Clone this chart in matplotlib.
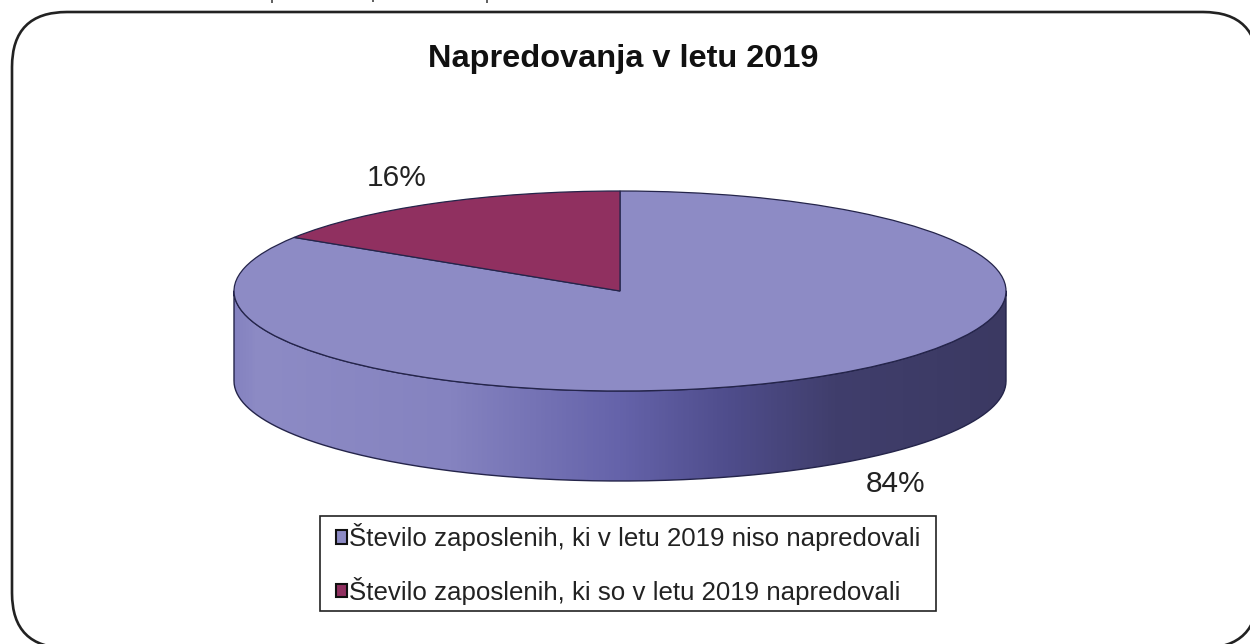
import numpy as np
import matplotlib
matplotlib.use('Agg')
import matplotlib.pyplot as plt
from matplotlib.colors import LinearSegmentedColormap
from matplotlib.patches import FancyBboxPatch, Patch, PathPatch, Rectangle
from matplotlib.path import Path

# DATA
title = 'Napredovanja v letu 2019'
labels = ['Število zaposlenih, ki v letu 2019 niso napredovali',
          'Število zaposlenih, ki so v letu 2019 napredovali']
values = [84, 16]
value_labels = ['84%', '16%']
colors = ['#8d8bc5', '#903060']

W, H = 1250, 644
plt.rcParams['font.family'] = ['Liberation Sans', 'DejaVu Sans']
fig = plt.figure(figsize=(W/100, H/100), dpi=100, facecolor='white')

# page layer in pixels, y pointing down
bg = fig.add_axes([0, 0, 1, 1])
bg.set_xlim(0, W)
bg.set_ylim(H, 0)
bg.axis('off')
bg.add_patch(FancyBboxPatch((67, 67), 1136, 526, boxstyle='round,pad=55,rounding_size=55',
                            facecolor='white', edgecolor='#222222', linewidth=1.9))
bg.add_patch(Rectangle((320, 516), 616, 95, facecolor='white', edgecolor='#222222', linewidth=1.2))
bg.text(623, 59, title, ha='center', va='center', fontsize=23.4, fontweight='bold', color='#111111')
bg.text(397, 178, value_labels[1], ha='center', va='center', fontsize=21.5, color='#222222')
bg.text(896, 484, value_labels[0], ha='center', va='center', fontsize=21.5, color='#222222')

# stubs of the cut off line of text above the frame
for x, h in [(272, 3), (373, 1.5), (487, 3)]:
    bg.plot([x, x], [0, h], color='#444444', linewidth=1.2, solid_capstyle='butt')

# pie axes: x -1..1 is the ellipse width, y -1..1 its height, below that the rim
left, right, top, bottom = 234, 1006, 191, 481
depth = 0.9
ax = fig.add_axes([left/W, 1-bottom/H, (right-left)/W, (bottom-top)/H])

# rim, drawn first so that the top surface sits on it
t = np.linspace(np.pi, 2*np.pi, 200)
rim_x = np.r_[np.cos(t), np.cos(t[::-1]), -1]
rim_y = np.r_[np.sin(t)-depth, np.sin(t[::-1]), -depth]
rim = PathPatch(Path(np.c_[rim_x, rim_y]), facecolor='none', edgecolor='#24244a',
                linewidth=1.0, zorder=3, joinstyle='round')
ax.add_patch(rim)
rim_cmap = LinearSegmentedColormap.from_list('rim', [(0, '#8482c0'), (0.03, '#8d8bc5'), (0.28, '#8583c0'),
                                                    (0.5, '#6563aa'), (0.64, '#4f4d8c'), (0.78, '#403e6c'),
                                                    (1, '#3b3962')])
img = ax.imshow(np.linspace(0, 1, 512).reshape(1, -1), cmap=rim_cmap, extent=(-1, 1, -1-depth, 1),
                aspect='auto', zorder=2)
img.set_clip_path(rim)

wedges, _ = ax.pie(values, colors=colors, startangle=90, counterclock=False,
                   wedgeprops={'edgecolor': '#24244a', 'linewidth': 0.9, 'zorder': 4})
ax.set_aspect('auto')
ax.set_xlim(-1, 1)
ax.set_ylim(-1-depth, 1)
ax.axis('off')
for p in ax.patches:
    p.set_clip_on(False)

# legend, its frame is the rectangle on the page layer
handles = [Patch(facecolor=c, edgecolor='#111111', linewidth=1.5) for c in colors]
leg = fig.legend(handles, labels, loc='upper left', bbox_to_anchor=(336/W, 1-523/H),
                 fontsize=18.65, frameon=False, handlelength=0.43, handleheight=0.43,
                 handletextpad=0.08, labelspacing=0.99, borderpad=0, borderaxespad=0,
                 labelcolor='#222222')

fig.savefig('out.png', dpi=100)
